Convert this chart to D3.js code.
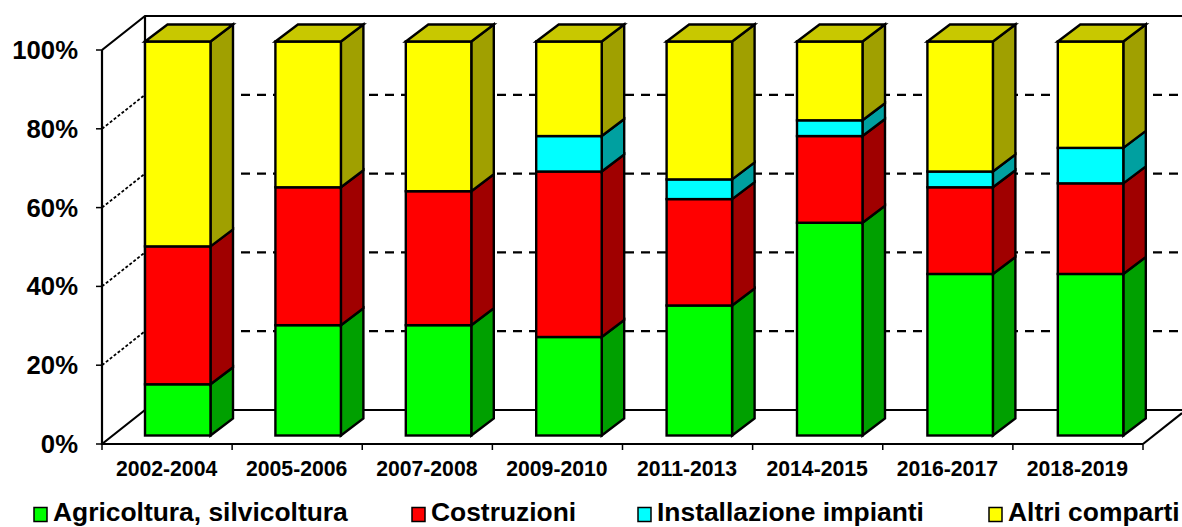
<!DOCTYPE html>
<html><head><meta charset="utf-8">
<script src="https://cdn.jsdelivr.net/npm/d3@7"></script>
<style>html,body{margin:0;padding:0;background:#fff}svg{display:block}text{font-family:"Liberation Sans",Arial,sans-serif;font-weight:bold;fill:#000}</style>
</head><body><svg id="c" width="1182" height="527"></svg>
<script>
const categories=["2002-2004","2005-2006","2007-2008","2009-2010","2011-2013","2014-2015","2016-2017","2018-2019"];
const agricoltura=[13,28,28,25,33,54,41,41];
const costruzioni=[35,35,34,42,27,22,22,23];
const installazione=[0,0,0,9,5,4,4,9];
const altri=[52,37,38,24,35,20,33,27];
const seriesNames=["Agricoltura, silvicoltura","Costruzioni","Installazione impianti","Altri comparti"];
const seriesValues=[agricoltura,costruzioni,installazione,altri];
const fronts=["#00ff00","#ff0000","#00ffff","#ffff00"];
const sides=["#00a000","#a00000","#00a0a0","#a0a000"];
const tops=["#00c800","#c80000","#00c8c8","#c8c800"];
const yTicks=[0,20,40,60,80,100];

const svg=d3.select("#c");
const x=d3.scaleBand().domain(categories).range([102,1143]);
const xBar=d3.scaleBand().domain(categories).range([145,1188.2]);
const y=d3.scaleLinear().domain([0,100]).range([444,50]);
const wall={dx:43,dy:-34};
const barOff={dx:0,dy:-8.5};
const depth={dx:22.5,dy:-17};
const barW=65.5;
const W=1182;

yTicks.filter(t=>t>0&&t<100).forEach(t=>{
  svg.append("line").attr("x1",x.range()[0]).attr("y1",y(t)).attr("x2",x.range()[0]+wall.dx).attr("y2",y(t)+wall.dy)
    .attr("stroke","#000").attr("stroke-width",1.8).attr("stroke-dasharray","3 2");
  svg.append("line").attr("x1",x.range()[0]+wall.dx).attr("y1",y(t)+wall.dy).attr("x2",W).attr("y2",y(t)+wall.dy)
    .attr("stroke","#000").attr("stroke-width",2.2).attr("stroke-dasharray","9 7");
});
const x0=x.range()[0],x1=x.range()[1];
const frame=[
 [[x0,y(100)],[x0+wall.dx,y(100)+wall.dy],[W,y(100)+wall.dy]],
 [[x0+wall.dx,y(100)+wall.dy],[x0+wall.dx,y(0)+wall.dy]],
 [[x0,y(0)],[x0+wall.dx,y(0)+wall.dy],[W,y(0)+wall.dy]],
 [[x1,y(0)],[W,y(0)-31]],
 [[x0,y(100)],[x0,y(0)],[x1,y(0)]]
];
const line=d3.line();
frame.forEach(p=>svg.append("path").attr("d",line(p)).attr("fill","none").attr("stroke","#000").attr("stroke-width",2.2));

yTicks.forEach(t=>{
  svg.append("line").attr("x1",x0-6).attr("x2",x0).attr("y1",y(t)).attr("y2",y(t)).attr("stroke","#000").attr("stroke-width",1.5);
  svg.append("text").attr("x",78).attr("y",y(t)+9).attr("text-anchor","end").attr("font-size",25.7).text(t+"%");
});
categories.forEach((c,i)=>{
  const tx=x(c);
  svg.append("line").attr("x1",tx).attr("x2",tx).attr("y1",y(0)).attr("y2",y(0)+6).attr("stroke","#000").attr("stroke-width",1.5);
  svg.append("text").attr("x",tx+x.bandwidth()/2-0.5).attr("y",476).attr("text-anchor","middle").attr("font-size",21.2).text(c);
});
svg.append("line").attr("x1",x1).attr("x2",x1).attr("y1",y(0)).attr("y2",y(0)+6).attr("stroke","#000").attr("stroke-width",1.5);

categories.forEach((c,i)=>{
  const bx=xBar(c);
  let acc=0;
  const g=svg.append("g").attr("stroke","#000").attr("stroke-width",2.4).attr("stroke-linejoin","miter");
  seriesValues.forEach((s,k)=>{
    const v=s[i]; if(!v)return;
    const yb=y(acc)+barOff.dy, yt=y(acc+v)+barOff.dy;
    acc+=v;
    g.append("path").attr("fill",sides[k]).attr("d",line([[bx+barW,yb],[bx+barW+depth.dx,yb+depth.dy],[bx+barW+depth.dx,yt+depth.dy],[bx+barW,yt]])+"Z");
    g.append("rect").attr("x",bx).attr("y",yt).attr("width",barW).attr("height",yb-yt).attr("fill",fronts[k]);
    if(k===seriesValues.length-1)
      g.append("path").attr("fill",tops[k]).attr("d",line([[bx,yt],[bx+depth.dx,yt+depth.dy],[bx+barW+depth.dx,yt+depth.dy],[bx+barW,yt]])+"Z");
  });
});

const legX=[34,412,638,989];
seriesNames.forEach((n,k)=>{
  svg.append("rect").attr("x",legX[k]).attr("y",507.5).attr("width",13).attr("height",14).attr("fill",fronts[k]).attr("stroke","#000").attr("stroke-width",1.5);
  svg.append("text").attr("x",legX[k]+19).attr("y",521).attr("font-size",26.4).text(n);
});
</script></body></html>
